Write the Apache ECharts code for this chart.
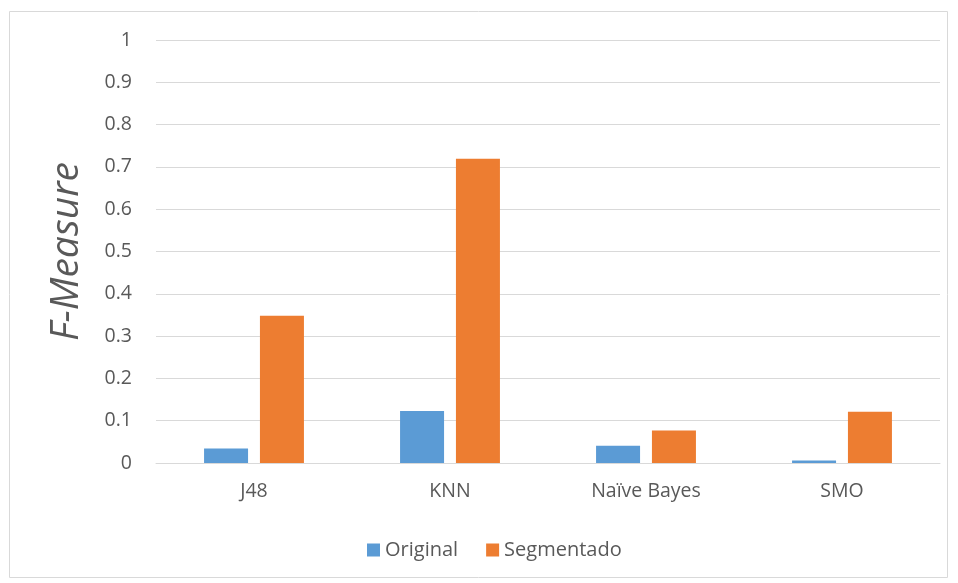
<!DOCTYPE html>
<html>
<head>
<meta charset="utf-8">
<script src="https://cdn.jsdelivr.net/npm/echarts@6/dist/echarts.min.js"></script>
<style>
  html, body { margin: 0; padding: 0; background: #fff; }
  #chart { width: 958px; height: 583px; }
</style>
</head>
<body>
<div id="chart"></div>
<script>
const categories = ["J48", "KNN", "Naïve Bayes", "SMO"];
const originalValues = [0.034, 0.123, 0.041, 0.006];
const segmentadoValues = [0.348, 0.719, 0.077, 0.121];
const yTicks = [0, 0.1, 0.2, 0.3, 0.4, 0.5, 0.6, 0.7, 0.8, 0.9, 1];

const chart = echarts.init(document.getElementById("chart"));
const font = "'Open Sans', 'Liberation Sans', sans-serif";

chart.setOption({
  animation: false,
  graphic: [{
    type: "rect",
    shape: { x: 9.5, y: 11.5, width: 938, height: 566 },
    style: { fill: "none", stroke: "#d9d9d9", lineWidth: 1 },
    silent: true
  }],
  grid: { left: 156, right: 18, top: 40, bottom: 120, containLabel: false },
  legend: {
    bottom: 18,
    left: 362,
    itemWidth: 13,
    itemHeight: 13,
    itemGap: 28,
    icon: "rect",
    textStyle: { color: "#595959", fontSize: 20, fontFamily: font },
    data: ["Original", "Segmentado"]
  },
  xAxis: {
    type: "category",
    data: categories,
    axisLine: { lineStyle: { color: "#d9d9d9", width: 1 } },
    axisTick: { show: false },
    axisLabel: { color: "#595959", fontSize: 19.5, fontFamily: font, margin: 18 }
  },
  yAxis: {
    type: "value",
    min: yTicks[0],
    max: yTicks[yTicks.length - 1],
    interval: 0.1,
    name: "F-Measure",
    nameLocation: "middle",
    nameGap: 70,
    nameTextStyle: { color: "#595959", fontSize: 39, fontStyle: "italic", fontFamily: font },
    axisLine: { show: false },
    axisTick: { show: false },
    splitLine: { lineStyle: { color: "#d9d9d9", width: 1 } },
    axisLabel: {
      color: "#595959", fontSize: 19.5, fontFamily: font, margin: 24,
      formatter: v => String(Math.round(v * 10) / 10)
    }
  },
  series: [
    {
      name: "Original", type: "bar", data: originalValues,
      barWidth: 44, barGap: "27%",
      itemStyle: { color: "#5b9bd5" }
    },
    {
      name: "Segmentado", type: "bar", data: segmentadoValues,
      barWidth: 44, barGap: "27%",
      itemStyle: { color: "#ed7d31" }
    }
  ]
});
</script>
</body>
</html>
